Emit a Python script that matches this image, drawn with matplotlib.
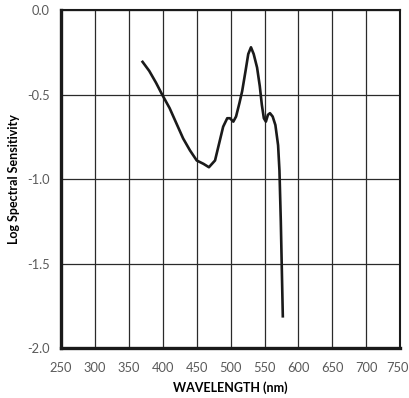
import numpy as np
import matplotlib.pyplot as plt
import matplotlib.transforms as mtransforms

# wavelength (nm) and log spectral sensitivity
wavelength = [369, 380, 390, 399, 410, 420, 430, 440, 450, 460, 468, 477,
              483, 489, 495, 499, 504, 508, 513, 517, 522, 526, 530, 534,
              539, 543, 546, 549, 552, 555, 558, 562, 566, 570, 572, 574,
              577]
log_sens = [-0.30, -0.36, -0.43, -0.50, -0.58, -0.67, -0.76, -0.83, -0.89,
            -0.91, -0.93, -0.89, -0.79, -0.69, -0.64, -0.64, -0.66, -0.63,
            -0.55, -0.48, -0.36, -0.26, -0.22, -0.26, -0.34, -0.45, -0.56,
            -0.64, -0.66, -0.62, -0.61, -0.63, -0.68, -0.80, -0.95, -1.25,
            -1.82]

x_ticks = np.arange(250, 751, 50)
y_ticks = [0.0, -0.5, -1.0, -1.5, -2.0]
y_ticklabels = ['0.0', '-0.5', '-1.0', '-1.5', '-2.0']

plt.rcParams['font.family'] = ['Lato', 'DejaVu Sans']

fig = plt.figure(figsize=(4.1, 3.98), dpi=100)
ax = fig.add_axes([0.149, 0.1256, 0.827, 0.849])

ax.plot(wavelength, log_sens, color='#1a1a1a', lw=1.9,
        solid_joinstyle='round', solid_capstyle='butt', zorder=3)

ax.set_xlim(250, 750)
ax.set_ylim(-2.0, 0.0)
ax.set_xticks(x_ticks)
ax.set_yticks(y_ticks)
ax.set_yticklabels(y_ticklabels)
ax.tick_params(length=0, labelsize=9.3, labelcolor='#5a5a5a')
ax.tick_params(axis='x', pad=10)
ax.tick_params(axis='y', pad=8)
ax.grid(True, color='#2a2a2a', lw=0.9)
ax.set_axisbelow(True)

# nudge the last x label so it stays inside the figure
last = ax.get_xticklabels()[-1]
last.set_transform(last.get_transform() +
                   mtransforms.ScaledTranslation(-3 / 100, 0, fig.dpi_scale_trans))

for side in ['left', 'bottom']:
    ax.spines[side].set_linewidth(2.4)
for side in ['top', 'right']:
    ax.spines[side].set_linewidth(1.5)
for s in ax.spines.values():
    s.set_color('#1a1a1a')

ax.set_xlabel('WAVELENGTH (nm)', fontsize=9, fontweight='bold', labelpad=5)
ax.set_ylabel('Log Spectral Sensitivity', fontsize=9, fontweight='bold',
              labelpad=5)

fig.savefig('out.png', dpi=100)
